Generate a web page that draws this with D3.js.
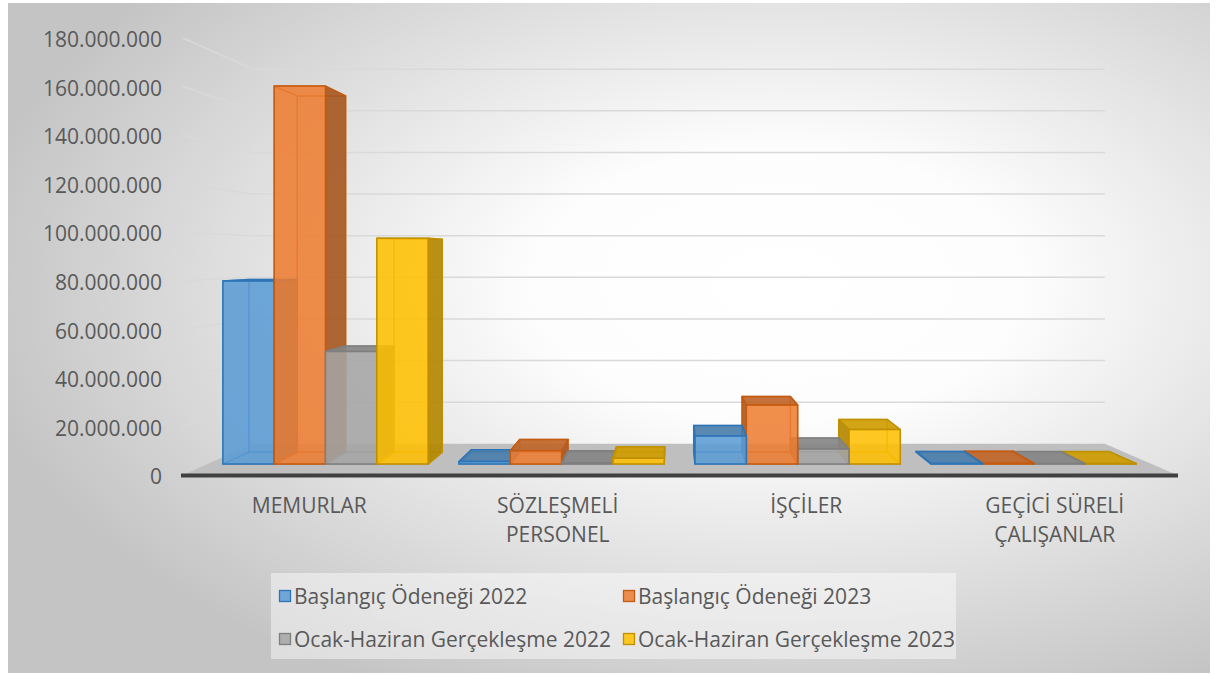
<!DOCTYPE html>
<html><head><meta charset="utf-8">
<script src="https://cdn.jsdelivr.net/npm/d3@7"></script>
<style>
body{margin:0;background:#fff;}
text{font-family:"Open Sans",sans-serif;fill:#595959;}
</style>
</head><body>
<svg id="chart" width="1218" height="675"></svg>
<script>
// ---------- data ----------
const categories = [["MEMURLAR"], ["SÖZLEŞMELİ", "PERSONEL"], ["İŞÇİLER"], ["GEÇİCİ SÜRELİ", "ÇALIŞANLAR"]];
const seriesNames = ["Başlangıç Ödeneği 2022", "Başlangıç Ödeneği 2023", "Ocak-Haziran Gerçekleşme 2022", "Ocak-Haziran Gerçekleşme 2023"];
const baslangic2022 = [79400000, 1100000, 12200000, 300000];
const baslangic2023 = [163900000, 5800000, 25600000, 400000];
const gerceklesme2022 = [48800000, 600000, 6500000, 200000];
const gerceklesme2023 = [97900000, 2500000, 15000000, 200000];
const yTicks = [0, 20000000, 40000000, 60000000, 80000000, 100000000, 120000000, 140000000, 160000000, 180000000];

const seriesValues = [baslangic2022, baslangic2023, gerceklesme2022, gerceklesme2023];
const seriesFill = ["#5B9BD5", "#ED7D31", "#A5A5A5", "#FFC000"];
const seriesLine = ["#2E75B6", "#C55A11", "#7F7F7F", "#BF9000"];

// ---------- layout ----------
const FL = 183, FR = 1177, Y0 = 475, YT = 38;    // front plane
const VX = 672.5, VY = 256.5;                     // vanishing point
const S_FRONT = 0.95, S_BACK = 0.895, S_WALL = 0.857;

const svg = d3.select("#chart");
const defs = svg.append("defs");
const grad = defs.append("radialGradient").attr("id", "bg")
  .attr("cx", 0.64).attr("cy", 0.42).attr("r", 0.68);
grad.append("stop").attr("offset", 0).attr("stop-color", "#ffffff");
grad.append("stop").attr("offset", 0.3).attr("stop-color", "#fdfdfd");
grad.append("stop").attr("offset", 1).attr("stop-color", "#c4c4c4");

svg.append("rect").attr("x", 8).attr("y", 3).attr("width", 1202).attr("height", 670)
  .attr("fill", "url(#bg)");

const x0 = d3.scaleBand().domain(d3.range(categories.length)).range([FL, FR]);
const x1 = d3.scaleBand().domain(d3.range(seriesNames.length)).range([0, x0.bandwidth()]).paddingOuter(0.3);
const y = d3.scaleLinear().domain([0, 180000000]).range([Y0, YT]);

const P = (u, v, s) => [VX + (u - VX) * s, VY + (v - VY) * s];
const poly = pts => "M" + pts.map(p => p[0].toFixed(2) + "," + p[1].toFixed(2)).join("L") + "Z";

// gridlines (side wall + back wall)
const grid = svg.append("g");
yTicks.filter(t => t > 0).forEach(t => {
  const v = y(t);
  const a = P(FL, v, 1), b = P(FL, v, S_WALL), c = P(FR, v, S_WALL);
  grid.append("path").attr("d", `M${a}L${b}L${c}`)
    .attr("fill", "none").attr("stroke", "#d9d9d9").attr("stroke-width", 1.5);
});

// floor
svg.append("path")
  .attr("d", poly([P(FL, Y0, 1), P(FR, Y0, 1), P(FR, Y0, S_WALL), P(FL, Y0, S_WALL)]))
  .attr("fill", "#bfbfbf");
svg.append("line").attr("x1", FL - 2).attr("x2", FR + 1).attr("y1", Y0 + 0.5).attr("y2", Y0 + 0.5)
  .attr("stroke", "#404040").attr("stroke-width", 4);

// bars
const bars = [];
categories.forEach((c, i) => {
  seriesValues.forEach((vals, j) => {
    const u0 = x0(i) + x1(j), u1 = u0 + x1.bandwidth();
    bars.push({ i, j, u0, u1, vt: y(vals[i]), vb: y(0) });
  });
});
bars.sort((a, b) => Math.abs((b.u0 + b.u1) / 2 - VX) - Math.abs((a.u0 + a.u1) / 2 - VX));

const barG = svg.append("g");
bars.forEach(b => {
  const F = (u, v) => P(u, v, S_FRONT), B = (u, v) => P(u, v, S_BACK);
  const faces = {
    back: [B(b.u0, b.vb), B(b.u1, b.vb), B(b.u1, b.vt), B(b.u0, b.vt)],
    bottom: [F(b.u0, b.vb), F(b.u1, b.vb), B(b.u1, b.vb), B(b.u0, b.vb)],
    top: [F(b.u0, b.vt), F(b.u1, b.vt), B(b.u1, b.vt), B(b.u0, b.vt)],
    left: [F(b.u0, b.vb), F(b.u0, b.vt), B(b.u0, b.vt), B(b.u0, b.vb)],
    right: [F(b.u1, b.vb), F(b.u1, b.vt), B(b.u1, b.vt), B(b.u1, b.vb)],
    front: [F(b.u0, b.vb), F(b.u1, b.vb), F(b.u1, b.vt), F(b.u0, b.vt)]
  };
  const vis = {
    back: false, bottom: b.vb < VY, top: b.vt > VY,
    left: b.u0 > VX, right: b.u1 < VX, front: true
  };
  const base = d3.color(seriesFill[b.j]);
  const g = barG.append("g");
  const order = ["back", "bottom", "top", "left", "right"];
  // hidden faces
  order.filter(k => !vis[k]).forEach(k => {
    g.append("path").attr("d", poly(faces[k]))
      .attr("fill", base).attr("fill-opacity", 0.12)
      .attr("stroke", seriesLine[b.j]).attr("stroke-opacity", 0.6)
      .attr("stroke-width", 1.4).attr("stroke-linejoin", "round");
  });
  // visible faces
  ["left", "right", "top"].filter(k => vis[k]).forEach(k => {
    const col = k === "top" ? base.darker(0.6) : base.darker(1.0);
    g.append("path").attr("d", poly(faces[k]))
      .attr("fill", col).attr("fill-opacity", 0.9)
      .attr("stroke", seriesLine[b.j]).attr("stroke-width", 1.5).attr("stroke-linejoin", "round");
  });
  g.append("path").attr("d", poly(faces.front))
    .attr("fill", base).attr("fill-opacity", 0.85)
    .attr("stroke", seriesLine[b.j]).attr("stroke-width", 1.5).attr("stroke-linejoin", "round");
});

// y axis
const loc = d3.formatLocale({ decimal: ",", thousands: ".", grouping: [3], currency: ["", ""] });
const fmt = loc.format(",");
const yAxis = svg.append("g").attr("transform", "translate(162,2)")
  .call(d3.axisLeft(y).tickValues(yTicks).tickSize(0).tickPadding(0).tickFormat(fmt));
yAxis.select(".domain").remove();
yAxis.attr("font-family", null).attr("font-size", null);
yAxis.selectAll("text").style("font-size", "21px").attr("fill", "#595959");

// category labels
const catG = svg.append("g");
categories.forEach((lines, i) => {
  const t = catG.append("text").attr("text-anchor", "middle").style("font-size", "21px");
  lines.forEach((ln, k) => {
    t.append("tspan").attr("x", x0(i) + x0.bandwidth() / 2 + 2).attr("y", 513 + k * 29).text(ln);
  });
});

// legend
const leg = svg.append("g");
leg.append("rect").attr("x", 271).attr("y", 573).attr("width", 685).attr("height", 86)
  .attr("fill", "#ffffff").attr("fill-opacity", 0.45);
const colX = [279, 623], rowY = [596, 639];
seriesNames.forEach((name, j) => {
  const cx = colX[j % 2], cy = rowY[Math.floor(j / 2)];
  leg.append("rect").attr("x", cx + 0.5).attr("y", cy - 5.5).attr("width", 11).attr("height", 11)
    .attr("fill", seriesFill[j]).attr("fill-opacity", 0.85)
    .attr("stroke", seriesLine[j]).attr("stroke-width", 1.3);
  leg.append("text").attr("x", cx + 15).attr("y", cy).attr("dominant-baseline", "central")
    .style("font-size", "21px").text(name);
});
</script>
</body></html>
